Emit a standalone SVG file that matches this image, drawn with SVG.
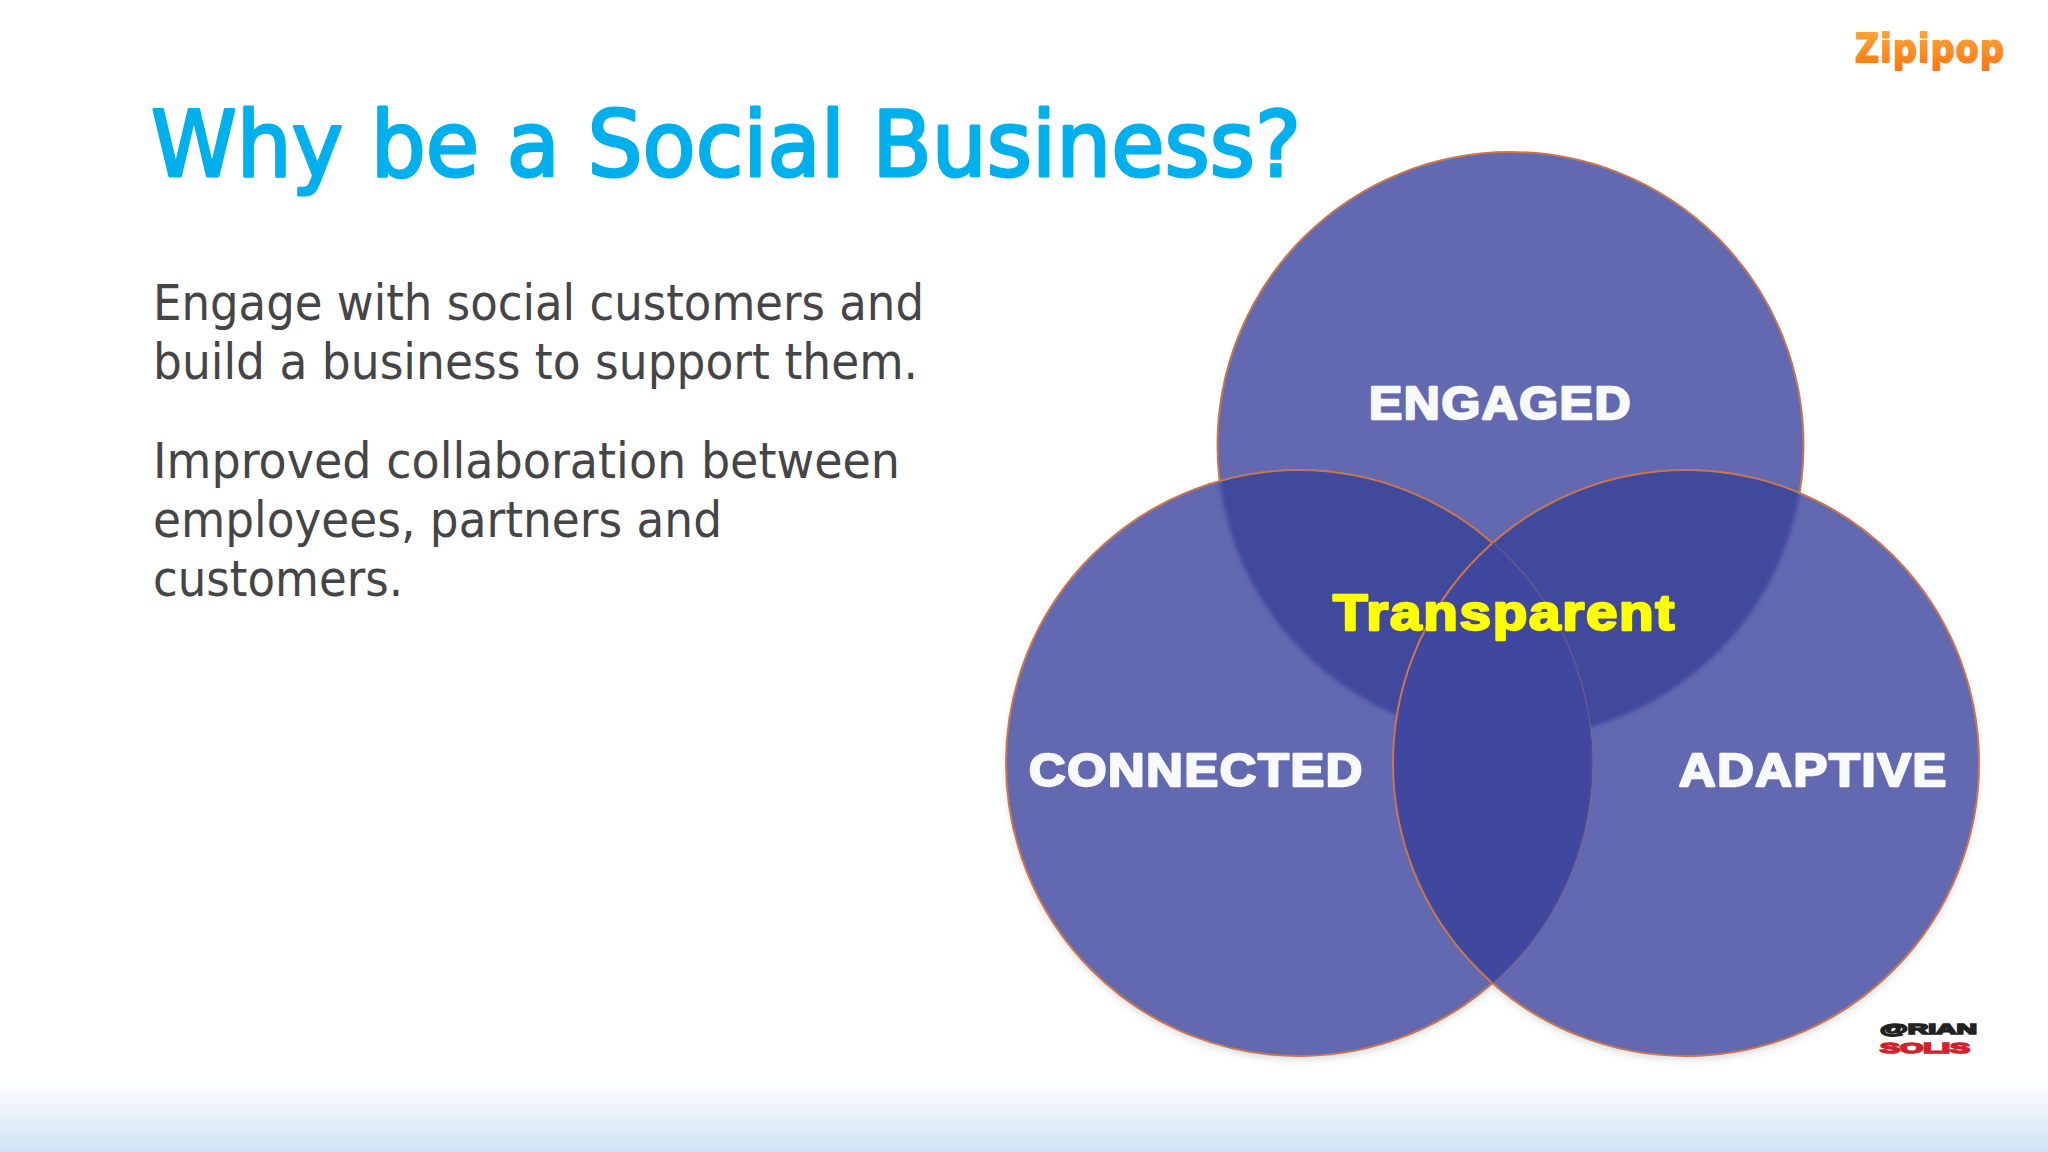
<svg xmlns="http://www.w3.org/2000/svg" width="2048" height="1152" viewBox="0 0 2048 1152">
<style>
.title{font-family:"DejaVu Sans",sans-serif;font-size:91px;fill:#00b0ec;stroke:#00b0ec;stroke-width:3px;stroke-linejoin:round}
.body{font-family:"DejaVu Sans",sans-serif;font-size:49px;fill:#454547}
.lab{font-family:"Liberation Sans",Arial,sans-serif;font-weight:700;font-size:46px;letter-spacing:1.5px;fill:#f8f9fc;stroke:#f8f9fc;stroke-width:2.4px;stroke-linejoin:round}
.disc{fill:#6269b0}
.edge{fill:none;stroke:#c9764f;stroke-width:2}
</style>
<defs>
<linearGradient id="floor" x1="0" y1="0" x2="0" y2="1"><stop offset="0" stop-color="#fff"/><stop offset="0.25" stop-color="#f3f7fd"/><stop offset="1" stop-color="#d0e3f3"/></linearGradient>
<linearGradient id="zip" gradientUnits="userSpaceOnUse" x1="0" y1="30" x2="0" y2="68"><stop offset="0" stop-color="#fda43a"/><stop offset="1" stop-color="#fb7a16"/></linearGradient>
<filter id="shadow" x="-10%" y="-10%" width="120%" height="120%"><feGaussianBlur stdDeviation="4"/></filter>
<filter id="soft" x="-10%" y="-10%" width="120%" height="120%"><feGaussianBlur stdDeviation="2"/></filter>
<clipPath id="cL"><circle cx="1299" cy="763" r="293"/></clipPath>
<clipPath id="cR"><circle cx="1686" cy="763" r="293"/></clipPath>
</defs>
<rect width="2048" height="1152" fill="#fff"/>
<rect y="1080" width="2048" height="72" fill="url(#floor)"/>
<text class="title" x="151" y="175.500" textLength="1150" lengthAdjust="spacingAndGlyphs">Why be a Social Business?</text>
<text class="body" x="153" y="320" textLength="771" lengthAdjust="spacingAndGlyphs">Engage with social customers and</text>
<text class="body" x="153" y="379" textLength="765" lengthAdjust="spacingAndGlyphs">build a business to support them.</text>
<text class="body" x="153" y="478" textLength="747" lengthAdjust="spacingAndGlyphs">Improved collaboration between</text>
<text class="body" x="153" y="537" textLength="569" lengthAdjust="spacingAndGlyphs">employees, partners and</text>
<text class="body" x="153" y="596" textLength="250" lengthAdjust="spacingAndGlyphs">customers.</text>
<g id="logo-zipipop"><text x="1855" y="62" textLength="150" lengthAdjust="spacingAndGlyphs" font-family="DejaVu Sans,sans-serif" font-weight="700" font-size="39" letter-spacing="1.5" fill="url(#zip)" stroke="url(#zip)" stroke-width="2" stroke-linejoin="round">Zipipop</text></g>
<g id="venn-shadow" fill="#8a8a90" opacity=".35" filter="url(#shadow)"><circle cx="1299" cy="767" r="292"/><circle cx="1686" cy="767" r="292"/></g>
<g id="venn-shapes">
<g id="circle-engaged"><circle class="edge" style="fill:#6269b0" cx="1510.5" cy="445" r="293"/></g>
<g id="circle-connected"><circle class="disc" cx="1299" cy="763" r="293"/></g>
<g id="circle-adaptive"><circle class="disc" cx="1686" cy="763" r="293"/></g>
<g clip-path="url(#cL)"><circle cx="1510.5" cy="445" r="293" fill="#3f489c" filter="url(#soft)"/></g>
<g clip-path="url(#cR)"><circle cx="1510.5" cy="445" r="293" fill="#3f489c" filter="url(#soft)"/></g>
<circle class="edge" cx="1299" cy="763" r="293"/>
<g clip-path="url(#cL)"><circle cx="1686" cy="763" r="293" fill="#3f479f"/></g>
<circle class="edge" cx="1686" cy="763" r="293"/>
<g clip-path="url(#cR)"><circle cx="1299" cy="763" r="293" fill="none" stroke="#4a4f9c" stroke-width="1.5"/></g>
</g>
<g id="labels">
<text class="lab" x="1369" y="419" textLength="263" lengthAdjust="spacingAndGlyphs">ENGAGED</text>
<text class="lab" x="1029" y="786" textLength="335" lengthAdjust="spacingAndGlyphs">CONNECTED</text>
<text class="lab" x="1679" y="786" textLength="269" lengthAdjust="spacingAndGlyphs">ADAPTIVE</text>
<text x="1333" y="630" textLength="343" lengthAdjust="spacingAndGlyphs" font-family="Liberation Sans,Arial,sans-serif" font-weight="700" font-size="50" letter-spacing="1.5" fill="#ffff00" stroke="#ffff00" stroke-width="2.4" stroke-linejoin="round">Transparent</text>
</g>
<g id="logo-solis" font-family="Liberation Sans,Arial,sans-serif" font-weight="700" font-size="15.500">
<text x="1880" y="1034" textLength="97" lengthAdjust="spacingAndGlyphs" fill="#222" stroke="#222" stroke-width="1.6">@RIAN</text>
<text x="1880" y="1052.500" textLength="90" lengthAdjust="spacingAndGlyphs" fill="#d3202a" stroke="#d3202a" stroke-width="1.6">SOLIS</text>
</g>
</svg>
